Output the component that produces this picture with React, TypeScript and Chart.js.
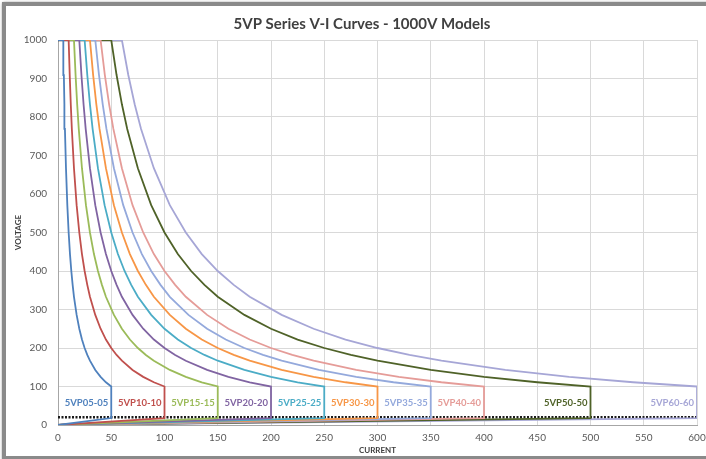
import React, { useEffect, useRef } from "react";
import { Chart, registerables } from "chart.js";

Chart.register(...registerables);

const TITLE = "5VP Series V-I Curves - 1000V Models";
const X_TITLE = "CURRENT";
const Y_TITLE = "VOLTAGE";

const MODELS = [
  "5VP05-05", "5VP10-10", "5VP15-15", "5VP20-20", "5VP25-25",
  "5VP30-30", "5VP35-35", "5VP40-40", "5VP50-50", "5VP60-60",
];
const COLORS = [
  "#4F81BD", "#C0504D", "#9BBB59", "#8064A2", "#4BACC6",
  "#F79646", "#94A9DC", "#E59C98", "#4F6228", "#A6A6D6",
];
const MAX_CURRENT = [50, 100, 150, 200, 250, 300, 350, 400, 500, 600];

// voltage points shared by every curve
const VOLTAGE = [0, 18, 100, 111, 125, 143, 167, 182, 200, 222, 250, 286, 333, 364, 400, 444, 500, 571, 667, 769, 833, 909, 1000, 1000];

const CURRENT_05 = [0, 50, 50, 45, 40, 35, 30, 27.5, 25, 22.5, 20, 17.5, 15, 13.75, 12.5, 11.25, 10, 8.75, 7.5, 6.5, 6, 5.5, 5, 0];
const CURRENT_10 = [0, 100, 100, 90, 80, 70, 60, 55, 50, 45, 40, 35, 30, 27.5, 25, 22.5, 20, 17.5, 15, 13, 12, 11, 10, 0];
const CURRENT_15 = [0, 150, 150, 135, 120, 105, 90, 82.5, 75, 67.5, 60, 52.5, 45, 41.25, 37.5, 33.75, 30, 26.25, 22.5, 19.5, 18, 16.5, 15, 0];
const CURRENT_20 = [0, 200, 200, 180, 160, 140, 120, 110, 100, 90, 80, 70, 60, 55, 50, 45, 40, 35, 30, 26, 24, 22, 20, 0];
const CURRENT_25 = [0, 250, 250, 225, 200, 175, 150, 137.5, 125, 112.5, 100, 87.5, 75, 68.75, 62.5, 56.25, 50, 43.75, 37.5, 32.5, 30, 27.5, 25, 0];
const CURRENT_30 = [0, 300, 300, 270, 240, 210, 180, 165, 150, 135, 120, 105, 90, 82.5, 75, 67.5, 60, 52.5, 45, 39, 36, 33, 30, 0];
const CURRENT_35 = [0, 350, 350, 315, 280, 245, 210, 192.5, 175, 157.5, 140, 122.5, 105, 96.25, 87.5, 78.75, 70, 61.25, 52.5, 45.5, 42, 38.5, 35, 0];
const CURRENT_40 = [0, 400, 400, 360, 320, 280, 240, 220, 200, 180, 160, 140, 120, 110, 100, 90, 80, 70, 60, 52, 48, 44, 40, 0];
const CURRENT_50 = [0, 500, 500, 450, 400, 350, 300, 275, 250, 225, 200, 175, 150, 137.5, 125, 112.5, 100, 87.5, 75, 65, 60, 55, 50, 0];
const CURRENT_60 = [0, 600, 600, 540, 480, 420, 360, 330, 300, 270, 240, 210, 180, 165, 150, 135, 120, 105, 90, 78, 72, 66, 60, 0];
const CURRENTS = [
  CURRENT_05, CURRENT_10, CURRENT_15, CURRENT_20, CURRENT_25,
  CURRENT_30, CURRENT_35, CURRENT_40, CURRENT_50, CURRENT_60,
];

const LIMIT_CURRENT = [0, 600];
const LIMIT_VOLTAGE = [20, 20];
const TOP_CURRENT = [0, 60];
const TOP_VOLTAGE = [1000, 1000];
const LABEL_VOLTAGE = 57;

const X_MIN = 0, X_MAX = 600, X_STEP = 50;
const Y_MIN = 0, Y_MAX = 1000, Y_STEP = 100;

const FONT = "Lato, 'Open Sans', sans-serif";

export default function App() {
  const ref = useRef<HTMLCanvasElement | null>(null);

  useEffect(() => {
    if (!ref.current) return;
    const datasets: any[] = CURRENTS.map((cur, i) => ({
      label: MODELS[i],
      data: cur.map((c, k) => ({ x: c, y: VOLTAGE[k] })),
      borderColor: COLORS[i],
      backgroundColor: COLORS[i],
      borderWidth: 1.8,
      pointRadius: 0,
      showLine: true,
      fill: false,
    }));
    datasets.push({
      label: "limit",
      data: LIMIT_CURRENT.map((c, k) => ({ x: c, y: LIMIT_VOLTAGE[k] })),
      borderColor: "#1a1a1a",
      borderWidth: 2.5,
      borderDash: [2, 1.5],
      pointRadius: 0,
      showLine: true,
    });
    datasets.push({
      label: "top",
      data: TOP_CURRENT.map((c, k) => ({ x: c, y: TOP_VOLTAGE[k] })),
      borderColor: "#333333",
      borderWidth: 2.5,
      pointRadius: 0,
      showLine: true,
    });

    const overlay = {
      id: "overlay",
      afterDatasetsDraw(chart: any) {
        const { ctx, scales } = chart;
        ctx.save();
        ctx.font = `bold 9.5px ${FONT}`;
        ctx.textAlign = "right";
        ctx.textBaseline = "middle";
        MODELS.forEach((m, i) => {
          ctx.fillStyle = COLORS[i];
          const x = scales.x.getPixelForValue(MAX_CURRENT[i]) - 3;
          const y = scales.y.getPixelForValue(LABEL_VOLTAGE);
          ctx.fillText(m, x, y);
        });
        ctx.restore();
      },
      afterDraw(chart: any) {
        const { ctx } = chart;
        ctx.save();
        ctx.font = `bold 15px ${FONT}`;
        ctx.fillStyle = "#404040";
        ctx.textAlign = "center";
        ctx.textBaseline = "middle";
        ctx.fillText(TITLE, 362, 24);
        ctx.restore();
      },
    };

    const chart = new Chart(ref.current, {
      type: "scatter",
      data: { datasets },
      options: {
        animation: false,
        responsive: false,
        maintainAspectRatio: false,
        layout: { padding: { left: 0, right: 9, top: 40, bottom: 0 } },
        plugins: {
          legend: { display: false },
          tooltip: { enabled: false },
          title: { display: false },
        },
        scales: {
          x: {
            type: "linear",
            min: X_MIN,
            max: X_MAX,
            afterFit: (s: any) => { s.height = 34; s.paddingLeft = 0; s.paddingRight = 0; },
            ticks: {
              stepSize: X_STEP,
              padding: 7,
              color: "#595959",
              font: { family: FONT, size: 10 },
            },
            grid: { color: "#d9d9d9", drawTicks: false },
            border: { color: "#a6a6a6" },
            title: {
              display: true,
              text: X_TITLE,
              color: "#404040",
              font: { family: FONT, size: 8, weight: "bold" },
              padding: { top: 4, bottom: 4 },
            },
          },
          y: {
            type: "linear",
            min: Y_MIN,
            max: Y_MAX,
            afterFit: (s: any) => { s.width = 58; s.paddingTop = 0; s.paddingBottom = 0; },
            ticks: {
              stepSize: Y_STEP,
              padding: 11,
              color: "#595959",
              font: { family: FONT, size: 10 },
              callback: (v: any) => String(v),
            },
            grid: { color: "#d9d9d9", drawTicks: false },
            border: { color: "#a6a6a6" },
            title: {
              display: true,
              text: Y_TITLE,
              color: "#404040",
              font: { family: FONT, size: 8, weight: "bold" },
              padding: { top: 14, bottom: 0 },
            },
          },
        },
      },
      plugins: [overlay],
    } as any);
    return () => chart.destroy();
  }, []);

  return (
    <div style={{ position: "fixed", left: 0, top: 0, width: 706, height: 459, background: "#fff", overflow: "hidden" }}>
      <div
        style={{
          position: "absolute", left: 2, top: 2, width: 720, height: 450,
          border: "4px solid #8a8a8a", boxShadow: "1px 1px 3px #444", background: "#fff",
        }}
      />
      <canvas ref={ref} width={706} height={459} style={{ position: "absolute", left: 0, top: 0, width: 706, height: 459 }} />
    </div>
  );
}
